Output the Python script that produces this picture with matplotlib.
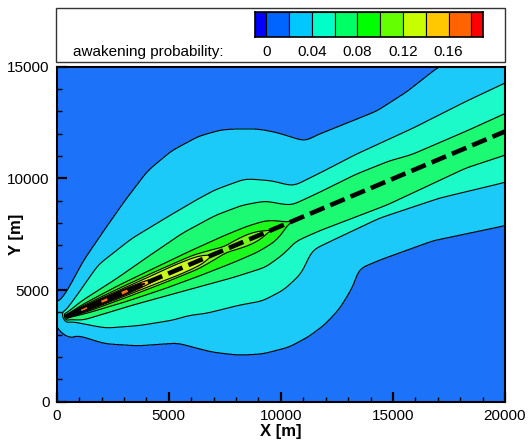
import numpy as np
import matplotlib
matplotlib.use("Agg")
import matplotlib.pyplot as plt
from matplotlib.colors import to_rgb
from matplotlib.patches import Rectangle
from matplotlib.ticker import MultipleLocator

plt.rcParams['font.family'] = ['Liberation Sans', 'DejaVu Sans']

# Flight track (m)
TRACK_X = [450, 20000]
TRACK_Y = [3820, 12100]

# Contour levels and band colours (below 0, 0-0.02, ..., above 0.18)
LEVELS = [0.0, 0.02, 0.04, 0.06, 0.08, 0.10, 0.12, 0.14, 0.16, 0.18]
BAND_COLORS = ['#0000ff', '#0064ff', '#00c8ff', '#00ffc8', '#00ff64', '#00ff00',
               '#64ff00', '#c8ff00', '#ffc800', '#ff6400', '#ff0000']
CBAR_TICKS = [0, 0.04, 0.08, 0.12, 0.16]

# Half-width (m) of each probability contour either side of the track,
# tabulated against distance along the track from the start point (m).
P02_U_UP = [0, 540, 1650, 3040, 4380, 5860, 7200, 8580, 9610, 10370, 11180, 11850, 12470, 12830, 13410, 16320, 17880, 19530, 22350]
P02_W_UP = [760, 1120, 2010, 2910, 3750, 4600, 5010, 5140, 5010, 4740, 4380, 3930, 3400, 3080, 3130, 3080, 3350, 3800, 4110]
P02_U_LO = [0, 130, 1070, 2410, 4110, 4600, 5360, 6390, 7380, 8580, 9570, 10460, 11350, 12290, 12830, 13860, 16360, 19580, 22350]
P02_W_LO = [940, 980, 1790, 2460, 3040, 3440, 4020, 4600, 4960, 5140, 5050, 4830, 4430, 3750, 3130, 3130, 3260, 3890, 4110]

P04_U_UP = [0, 890, 2190, 4020, 6080, 7460, 8310, 9740, 10820, 11440, 11620, 13050, 14710, 17520, 20160, 22350]
P04_W_UP = [220, 760, 1580, 2080, 2380, 2560, 2640, 2570, 2010, 1520, 1430, 1520, 1650, 1740, 1920, 2010]
P04_U_LO = [0, 1390, 2820, 4290, 5050, 5770, 7290, 8310, 9390, 10370, 11220, 11530, 14570, 17390, 20340, 22350]
P04_W_LO = [220, 1160, 1640, 2000, 2090, 2300, 2540, 2770, 2680, 2320, 1560, 1520, 1390, 1610, 2100, 2150]

P06_U_UP = [0, 890, 2640, 4430, 6210, 7870, 9160, 10190, 10820, 11180, 12520, 14390, 15960, 16990, 19670, 22350]
P06_W_UP = [130, 380, 680, 1060, 1420, 1580, 1530, 1300, 870, 670, 720, 830, 800, 670, 690, 760]
P06_U_LO = [0, 540, 2910, 5190, 7510, 9030, 9970, 10730, 11890, 15110, 19000, 20830, 22350]
P06_W_LO = [130, 430, 680, 980, 1290, 1430, 1210, 890, 870, 980, 830, 980, 980]

P08_U = [0, 900, 2700, 4500, 6250, 7800, 8950, 9850, 10350, 10750]
P08_W_UP = [70, 220, 380, 470, 550, 590, 580, 490, 270, 0]
P08_W_LO = [70, 220, 420, 560, 640, 680, 670, 540, 300, 0]

P10_U = [0, 900, 2700, 4500, 6250, 7150, 7700, 8150, 8850, 9500, 9750]
P10_W = [55, 160, 250, 310, 330, 220, 130, 200, 245, 160, 0]

P12_U = [0, 650, 2250, 4000, 5350, 6250, 6700, 6950]
P12_W = [45, 110, 160, 200, 245, 220, 155, 0]

P14_U = [0, 450, 1800, 3100, 4000, 4450]
P14_W = [35, 80, 110, 125, 90, 0]

P16_U = [0, 450, 1800, 2700, 3350, 3650]
P16_W = [25, 55, 80, 95, 70, 0]

PROFILES = [
    (P02_U_UP, P02_W_UP, P02_U_LO, P02_W_LO),
    (P04_U_UP, P04_W_UP, P04_U_LO, P04_W_LO),
    (P06_U_UP, P06_W_UP, P06_U_LO, P06_W_LO),
    (P08_U, P08_W_UP, P08_U, P08_W_LO),
    (P10_U, P10_W, P10_U, P10_W),
    (P12_U, P12_W, P12_U, P12_W),
    (P14_U, P14_W, P14_U, P14_W),
    (P16_U, P16_W, P16_U, P16_W),
]

# contours close more tightly behind the start point than beside it
BEHIND_STRETCH = 1.6

STEP = 25.0
U_FINE = np.arange(-2000.0, 24000.0, STEP)


def smooth_profile(u_st, w_st, sigma=200.0):
    """Tabulated half-width sampled on a fine along-track grid, Gaussian smoothed."""
    w = np.interp(U_FINE, u_st, w_st)
    m = int(4 * sigma / STEP)
    k = np.arange(-m, m + 1) * STEP
    g = np.exp(-0.5 * (k / sigma) ** 2)
    g /= g.sum()
    return np.convolve(np.pad(w, m, mode='edge'), g, mode='valid')


def probability_field(X, Y):
    x0, y0 = TRACK_X[0], TRACK_Y[0]
    ang = np.arctan2(TRACK_Y[1] - y0, TRACK_X[1] - x0)
    c, s = np.cos(ang), np.sin(ang)
    dx, dy = X - x0, Y - y0
    u = dx * c + dy * s
    v = -dx * s + dy * c
    ue = np.maximum(u, 0.0)
    d = np.where(u < 0, np.hypot(BEHIND_STRETCH * u, v), np.abs(v))
    upper = v >= 0

    widths = []
    prev = None
    for uu, wu, ul, wl in PROFILES:
        w_up = np.interp(ue, U_FINE, smooth_profile(uu, wu))
        w_lo = np.interp(ue, U_FINE, smooth_profile(ul, wl))
        w = np.where(upper, w_up, w_lo)
        w = np.where(w < 8.0, 0.0, w)
        if prev is not None:
            w = np.minimum(w, prev * 0.97)
        widths.append(w)
        prev = w

    p = np.full(X.shape, 0.01)
    n = len(widths)
    for k, w in enumerate(widths):
        lev = LEVELS[k + 1]
        w_next = widths[k + 1] if k + 1 < n else np.zeros_like(w)
        inside = d < w
        frac = np.where(w_next > 0,
                        0.02 * (w - d) / np.maximum(w - w_next, 1e-6),
                        0.015 * (w - d) / np.maximum(w, 1e-6))
        frac = np.clip(frac, 0, 0.0199)
        p = np.where(inside, lev + frac, p)
    return p


def soften(c, amt=0.13):
    r = np.array(to_rgb(c))
    return tuple(r * (1 - amt) + amt * 0.85)


xs = np.linspace(0, 20000, 1601)
ys = np.linspace(0, 15000, 1201)
X, Y = np.meshgrid(xs, ys)
P = probability_field(X, Y)

fig = plt.figure(figsize=(5.29, 4.40), dpi=100)
ax = fig.add_axes([0.1072, 0.0870, 0.8474, 0.7614])

fill_levels = [-1.0] + LEVELS + [1.0]
ax.contourf(X, Y, P, levels=fill_levels, colors=[soften(c) for c in BAND_COLORS])
ax.contour(X, Y, P, levels=LEVELS[1:], colors='k', linewidths=0.8)
ax.plot(TRACK_X, TRACK_Y, color='k', lw=3.3, dashes=(3.4, 1.4),
        dash_capstyle='butt', solid_capstyle='butt')

ax.set_xlim(0, 20000)
ax.set_ylim(0, 15000)
ax.set_xticks([0, 5000, 10000, 15000, 20000])
ax.set_yticks([0, 5000, 10000, 15000])
ax.xaxis.set_minor_locator(MultipleLocator(1000))
ax.yaxis.set_minor_locator(MultipleLocator(1000))
ax.tick_params(which='major', direction='in', length=7, width=1.6, labelsize=11, pad=5)
ax.tick_params(which='minor', direction='in', length=3.5, width=1.0)
for sp in ax.spines.values():
    sp.set_linewidth(1.5)
ax.set_xlabel('X [m]', fontsize=12, fontweight='bold', labelpad=1)
ax.set_ylabel('Y [m]', fontsize=12, fontweight='bold')
ax.yaxis.set_label_coords(-0.072, 0.5)

# Legend frame with the colour scale
fig.patches.append(Rectangle((0.1059, 0.8598), 0.8488, 0.1214, transform=fig.transFigure,
                             fill=False, edgecolor='#333333', linewidth=1.0))
fig.text(0.1375, 0.8825, 'awakening probability:', fontsize=11, va='center', ha='left')

cax = fig.add_axes([0.4820, 0.9152, 0.4304, 0.0568])
edges = [-0.01] + LEVELS + [0.19]
for lo, hi, col in zip(edges[:-1], edges[1:], BAND_COLORS):
    cax.add_patch(Rectangle((lo, 0), hi - lo, 1, facecolor=col, edgecolor='k', linewidth=0.8))
cax.set_xlim(edges[0], edges[-1])
cax.set_ylim(0, 1)
cax.set_xticks([])
cax.set_yticks([])
for sp in cax.spines.values():
    sp.set_linewidth(1.2)
for t in CBAR_TICKS:
    cax.text(t, -0.58, f'{t:g}', transform=cax.transData, ha='center', va='center', fontsize=11)

fig.savefig('out.png', dpi=100)
